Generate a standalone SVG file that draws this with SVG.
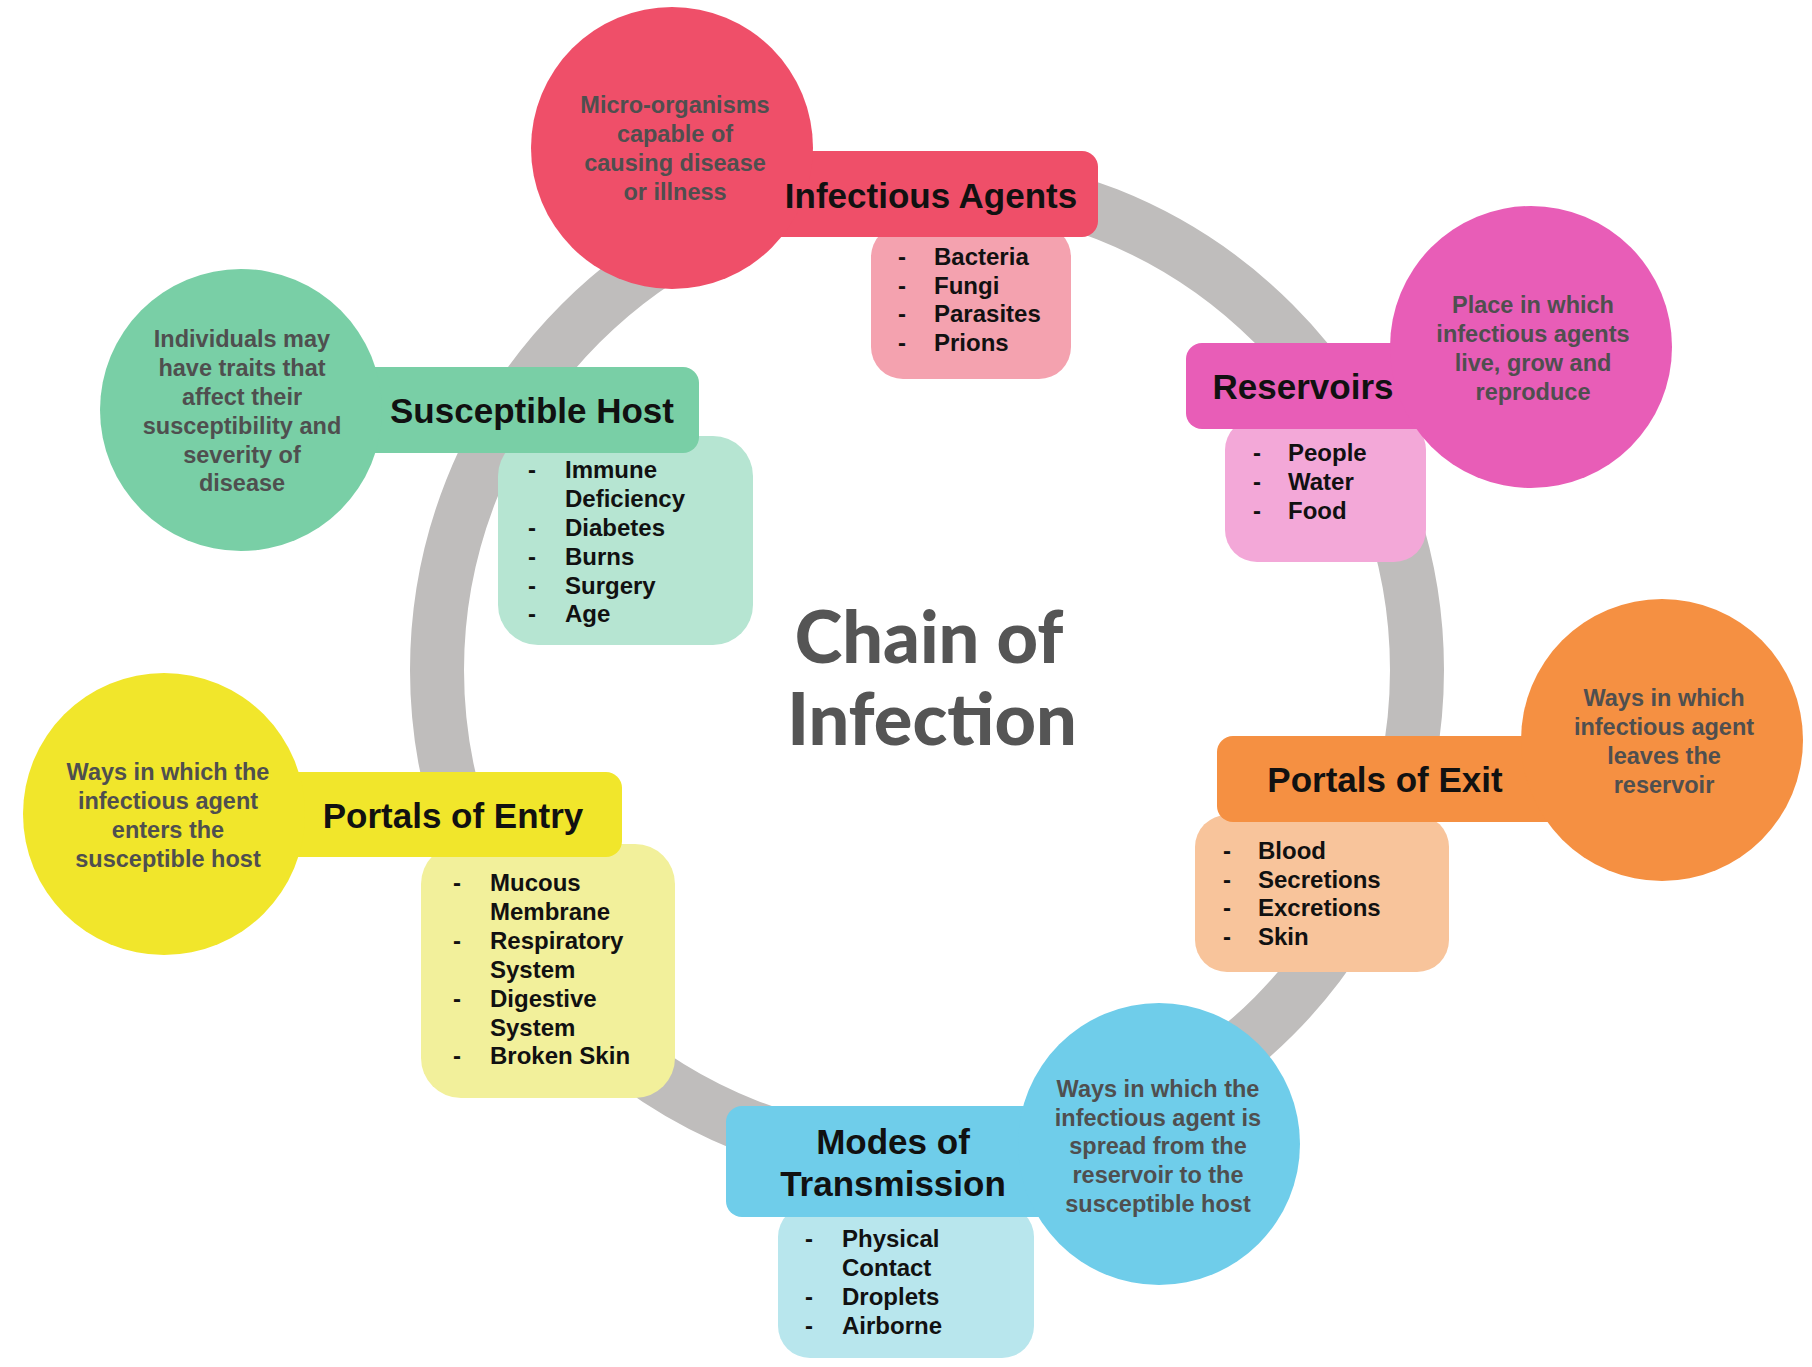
<svg xmlns="http://www.w3.org/2000/svg" width="1812" height="1367" viewBox="0 0 1812 1367">
<style>
.hd{font-family:"Liberation Sans",Arial,sans-serif;font-weight:bold;font-size:35px;fill:#111;text-anchor:middle}
.ds{font-family:"Liberation Sans",Arial,sans-serif;font-weight:bold;font-size:23.5px;fill:#4f4f4f;text-anchor:middle}
.li{font-family:"Liberation Sans",Arial,sans-serif;font-weight:bold;font-size:24px;fill:#111}
.ti{font-family:Lato,"Open Sans",sans-serif;font-weight:900;font-size:72px;fill:#555;text-anchor:middle}
</style>
<rect width="1812" height="1367" fill="#fff"/>
<g id="connectors">
<circle cx="927" cy="670" r="490" fill="none" stroke="#bfbdbc" stroke-width="54"/>
</g>
<g id="title">
<text class="ti" x="929" y="663">Chain of</text>
<text class="ti" x="932" y="745">Infection</text>
</g>
<g id="infectious-agents">
<rect x="871" y="225" width="200" height="154" rx="32" fill="#f4a2af"/>
<rect x="700" y="151" width="398" height="86" rx="16" fill="#ef4f69"/>
<circle cx="672" cy="148" r="141" fill="#ef4f69"/>
<text class="hd" x="931" y="208">Infectious Agents</text>
<text class="ds" x="675" y="113">Micro-organisms</text>
<text class="ds" x="675" y="142">capable of</text>
<text class="ds" x="675" y="171">causing disease</text>
<text class="ds" x="675" y="200">or illness</text>
<text class="li" x="898" y="265">-</text><text class="li" x="934" y="265">Bacteria</text>
<text class="li" x="898" y="294">-</text><text class="li" x="934" y="294">Fungi</text>
<text class="li" x="898" y="322">-</text><text class="li" x="934" y="322">Parasites</text>
<text class="li" x="898" y="351">-</text><text class="li" x="934" y="351">Prions</text>
</g>
<g id="reservoirs">
<rect x="1225" y="418" width="201" height="144" rx="32" fill="#f3a8d8"/>
<rect x="1186" y="343" width="330" height="86" rx="16" fill="#e85db7"/>
<circle cx="1531" cy="347" r="141" fill="#e85db7"/>
<text class="hd" x="1303" y="399">Reservoirs</text>
<text class="ds" x="1533" y="313">Place in which</text>
<text class="ds" x="1533" y="342">infectious agents</text>
<text class="ds" x="1533" y="371">live, grow and</text>
<text class="ds" x="1533" y="400">reproduce</text>
<text class="li" x="1253" y="461">-</text><text class="li" x="1288" y="461">People</text>
<text class="li" x="1253" y="490">-</text><text class="li" x="1288" y="490">Water</text>
<text class="li" x="1253" y="519">-</text><text class="li" x="1288" y="519">Food</text>
</g>
<g id="portals-of-exit">
<rect x="1195" y="815" width="254" height="157" rx="32" fill="#f8c49b"/>
<rect x="1217" y="736" width="400" height="86" rx="16" fill="#f59042"/>
<circle cx="1662" cy="740" r="141" fill="#f59042"/>
<text class="hd" x="1385" y="792">Portals of Exit</text>
<text class="ds" x="1664" y="706">Ways in which</text>
<text class="ds" x="1664" y="735">infectious agent</text>
<text class="ds" x="1664" y="764">leaves the</text>
<text class="ds" x="1664" y="793">reservoir</text>
<text class="li" x="1223" y="859">-</text><text class="li" x="1258" y="859">Blood</text>
<text class="li" x="1223" y="888">-</text><text class="li" x="1258" y="888">Secretions</text>
<text class="li" x="1223" y="916">-</text><text class="li" x="1258" y="916">Excretions</text>
<text class="li" x="1223" y="945">-</text><text class="li" x="1258" y="945">Skin</text>
</g>
<g id="modes-of-transmission">
<rect x="778" y="1205" width="256" height="153" rx="32" fill="#b8e6ed"/>
<rect x="726" y="1106" width="420" height="111" rx="16" fill="#6fcdea"/>
<circle cx="1159" cy="1144" r="141" fill="#6fcdea"/>
<text class="hd" x="893" y="1154">Modes of</text>
<text class="hd" x="893" y="1196">Transmission</text>
<text class="ds" x="1158" y="1097">Ways in which the</text>
<text class="ds" x="1158" y="1126">infectious agent is</text>
<text class="ds" x="1158" y="1154">spread from the</text>
<text class="ds" x="1158" y="1183">reservoir to the</text>
<text class="ds" x="1158" y="1212">susceptible host</text>
<text class="li" x="805" y="1247">-</text><text class="li" x="842" y="1247">Physical</text>
<text class="li" x="842" y="1276">Contact</text>
<text class="li" x="805" y="1305">-</text><text class="li" x="842" y="1305">Droplets</text>
<text class="li" x="805" y="1334">-</text><text class="li" x="842" y="1334">Airborne</text>
</g>
<g id="portals-of-entry">
<rect x="421" y="844" width="254" height="254" rx="40" fill="#f2f09b"/>
<rect x="200" y="772" width="422" height="85" rx="16" fill="#f1e62b"/>
<circle cx="164" cy="814" r="141" fill="#f1e62b"/>
<text class="hd" x="453" y="828">Portals of Entry</text>
<text class="ds" x="168" y="780">Ways in which the</text>
<text class="ds" x="168" y="809">infectious agent</text>
<text class="ds" x="168" y="838">enters the</text>
<text class="ds" x="168" y="867">susceptible host</text>
<text class="li" x="453" y="891">-</text><text class="li" x="490" y="891">Mucous</text>
<text class="li" x="490" y="920">Membrane</text>
<text class="li" x="453" y="949">-</text><text class="li" x="490" y="949">Respiratory</text>
<text class="li" x="490" y="978">System</text>
<text class="li" x="453" y="1007">-</text><text class="li" x="490" y="1007">Digestive</text>
<text class="li" x="490" y="1036">System</text>
<text class="li" x="453" y="1064">-</text><text class="li" x="490" y="1064">Broken Skin</text>
</g>
<g id="susceptible-host">
<rect x="498" y="436" width="255" height="209" rx="40" fill="#b6e5d2"/>
<rect x="280" y="367" width="419" height="86" rx="16" fill="#79cfa6"/>
<circle cx="241" cy="410" r="141" fill="#79cfa6"/>
<text class="hd" x="532" y="423">Susceptible Host</text>
<text class="ds" x="242" y="347">Individuals may</text>
<text class="ds" x="242" y="376">have traits that</text>
<text class="ds" x="242" y="405">affect their</text>
<text class="ds" x="242" y="434">susceptibility and</text>
<text class="ds" x="242" y="463">severity of</text>
<text class="ds" x="242" y="491">disease</text>
<text class="li" x="528" y="478">-</text><text class="li" x="565" y="478">Immune</text>
<text class="li" x="565" y="507">Deficiency</text>
<text class="li" x="528" y="536">-</text><text class="li" x="565" y="536">Diabetes</text>
<text class="li" x="528" y="565">-</text><text class="li" x="565" y="565">Burns</text>
<text class="li" x="528" y="594">-</text><text class="li" x="565" y="594">Surgery</text>
<text class="li" x="528" y="622">-</text><text class="li" x="565" y="622">Age</text>
</g>
</svg>
